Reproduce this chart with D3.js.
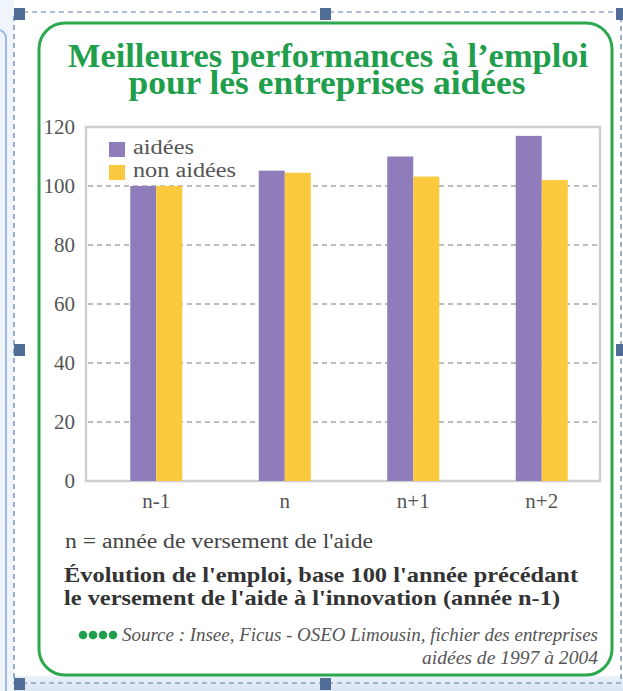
<!DOCTYPE html>
<html>
<head>
<meta charset="utf-8">
<script src="https://cdn.jsdelivr.net/npm/d3@7"></script>
<style>
  body { margin: 0; background: #fff; }
  svg { display: block; }
  svg text { font-family: 'Liberation Serif', 'Times New Roman', 'DejaVu Serif', serif; }
</style>
</head>
<body>
<div id="chart"></div>
<script>
// data
var categories = ["n-1", "n", "n+1", "n+2"];
var series = ["aidées", "non aidées"];
var aidees = [100, 105.2, 110, 117];
var nonAidees = [100, 104.5, 103.2, 102];
var yTicks = [0, 20, 40, 60, 80, 100, 120];
var colors = ["#8e7dba", "#fbc93d"];
var legendWidths = [61, 103];

var W = 623, H = 691;
var margin = {top: 127, right: 23, bottom: 210, left: 86},
    width = W - margin.left - margin.right,
    height = H - margin.top - margin.bottom;

var svg = d3.select("#chart").append("svg").attr("width", W).attr("height", H);

// page decoration (editor frame around the box)
var grad = svg.append("defs").append("linearGradient")
    .attr("id", "bot").attr("x1", 0).attr("y1", 0).attr("x2", 0).attr("y2", 1);
grad.append("stop").attr("offset", 0).attr("stop-color", "#eaf1f9");
grad.append("stop").attr("offset", 1).attr("stop-color", "#d8e4f2");
svg.append("rect").attr("x", 0).attr("y", 676).attr("width", W).attr("height", 15).attr("fill", "url(#bot)");
svg.append("rect").attr("x", 0).attr("y", 0).attr("width", 14).attr("height", H).attr("fill", "#f0f5fb");
svg.append("rect").attr("x", -10).attr("y", 30).attr("width", 16).attr("height", 700).attr("rx", 8)
    .attr("fill", "none").attr("stroke", "#9fbbe3").attr("stroke-width", 2);
svg.append("rect").attr("x", 14).attr("y", 12).attr("width", 607).attr("height", 671)
    .attr("fill", "none").attr("stroke", "#5a7aa8").attr("stroke-width", 1.2).attr("stroke-dasharray", "5,4");
[[19, 14], [325, 14], [19, 350], [621, 350], [19, 684], [325, 684], [621, 14]].forEach(function(p) {
  svg.append("rect").attr("x", p[0] - 5).attr("y", p[1] - 6).attr("width", 11).attr("height", 12)
      .attr("fill", "#4f6d97");
});

// green rounded box
svg.append("rect").attr("x", 39).attr("y", 23).attr("width", 573).attr("height", 652).attr("rx", 26)
    .attr("fill", "#fff").attr("stroke", "#2ea84f").attr("stroke-width", 3);

// title
var title = svg.append("g")
    .attr("font-weight", "bold").attr("font-size", 33).attr("fill", "#1f9e4c").attr("text-anchor", "middle");
title.append("text").attr("x", 328).attr("y", 67)
    .attr("textLength", 520).attr("lengthAdjust", "spacingAndGlyphs")
    .text("Meilleures performances à l’emploi");
title.append("text").attr("x", 327).attr("y", 94)
    .attr("textLength", 397).attr("lengthAdjust", "spacingAndGlyphs")
    .text("pour les entreprises aidées");

var x = d3.scaleBand().domain(categories).range([6, width + 6]).padding(0);
var x1 = d3.scaleBand().domain(series).range([0, 52]);
var y = d3.scaleLinear().domain([0, 120]).range([height, 0]);

var focus = svg.append("g")
    .attr("transform", "translate(" + margin.left + "," + margin.top + ")");

// frame
focus.append("rect").attr("x", 0).attr("y", 0).attr("width", width).attr("height", height)
    .attr("fill", "none").attr("stroke", "#cfcfcf").attr("stroke-width", 2.5);

// dashed gridlines
focus.append("g").selectAll("line")
    .data(yTicks.filter(function(d) { return d > 0 && d < 120; }))
  .enter().append("line")
    .attr("x1", 2).attr("x2", width - 2)
    .attr("y1", function(d) { return y(d); }).attr("y2", function(d) { return y(d); })
    .attr("stroke", "#a8a8a8").attr("stroke-width", 1.5).attr("stroke-dasharray", "5,4");

// y axis labels
var yAxis = d3.axisLeft(y).tickValues(yTicks).tickSize(0).tickPadding(11);
focus.append("g").call(yAxis)
    .call(function(g) { g.select(".domain").remove(); })
    .selectAll("text").attr("font-size", 21).attr("fill", "#555");

// bars
var rows = categories.map(function(c, i) { return {cat: c, vals: [aidees[i], nonAidees[i]]}; });
var groups = focus.append("g").selectAll("g")
    .data(rows)
  .enter().append("g")
    .attr("transform", function(d) { return "translate(" + (x(d.cat) + (x.bandwidth() - 52) / 2) + ",0)"; });
groups.selectAll("rect")
    .data(function(d) { return d.vals.map(function(v, j) { return {s: series[j], v: v, j: j}; }); })
  .enter().append("rect")
    .attr("x", function(d) { return x1(d.s); })
    .attr("width", x1.bandwidth())
    .attr("y", function(d) { return y(d.v); })
    .attr("height", function(d) { return height - y(d.v); })
    .attr("fill", function(d) { return colors[d.j]; });

// x axis labels
var xAxis = d3.axisBottom(x).tickSize(0).tickPadding(12);
focus.append("g").attr("transform", "translate(0," + height + ")").call(xAxis)
    .call(function(g) { g.select(".domain").remove(); })
    .selectAll("text").attr("font-size", 21).attr("fill", "#555");

// legend
var legend = focus.append("g").selectAll("g")
    .data(series)
  .enter().append("g")
    .attr("transform", function(d, i) { return "translate(23," + (15 + i * 23) + ")"; });
legend.append("rect").attr("width", 16).attr("height", 15).attr("fill", function(d, i) { return colors[i]; });
legend.append("text").attr("x", 24).attr("y", 12)
    .attr("font-size", 20).attr("fill", "#555")
    .attr("textLength", function(d, i) { return legendWidths[i]; }).attr("lengthAdjust", "spacingAndGlyphs")
    .text(function(d) { return d; });

// notes
svg.append("text").attr("x", 65).attr("y", 548)
    .attr("font-size", 20).attr("fill", "#444")
    .attr("textLength", 308).attr("lengthAdjust", "spacingAndGlyphs")
    .text("n = année de versement de l'aide");
var cap = svg.append("g")
    .attr("font-weight", "bold").attr("font-size", 21).attr("fill", "#333");
cap.append("text").attr("x", 64).attr("y", 582)
    .attr("textLength", 514).attr("lengthAdjust", "spacingAndGlyphs")
    .text("Évolution de l'emploi, base 100 l'année précédant");
cap.append("text").attr("x", 64).attr("y", 605)
    .attr("textLength", 496).attr("lengthAdjust", "spacingAndGlyphs")
    .text("le versement de l'aide à l'innovation (année n-1)");

svg.append("g").selectAll("circle")
    .data(d3.range(4))
  .enter().append("circle")
    .attr("cx", function(d) { return 83 + d * 10; }).attr("cy", 635).attr("r", 4.3)
    .attr("fill", "#1f9e4c");
var src = svg.append("g")
    .attr("font-style", "italic").attr("font-size", 18).attr("fill", "#555");
src.append("text").attr("x", 122).attr("y", 641)
    .attr("textLength", 476).attr("lengthAdjust", "spacingAndGlyphs")
    .text("Source : Insee, Ficus - OSEO Limousin, fichier des entreprises");
src.append("text").attr("x", 598).attr("y", 664).attr("text-anchor", "end")
    .attr("textLength", 176).attr("lengthAdjust", "spacingAndGlyphs")
    .text("aidées de 1997 à 2004");
</script>
</body>
</html>
